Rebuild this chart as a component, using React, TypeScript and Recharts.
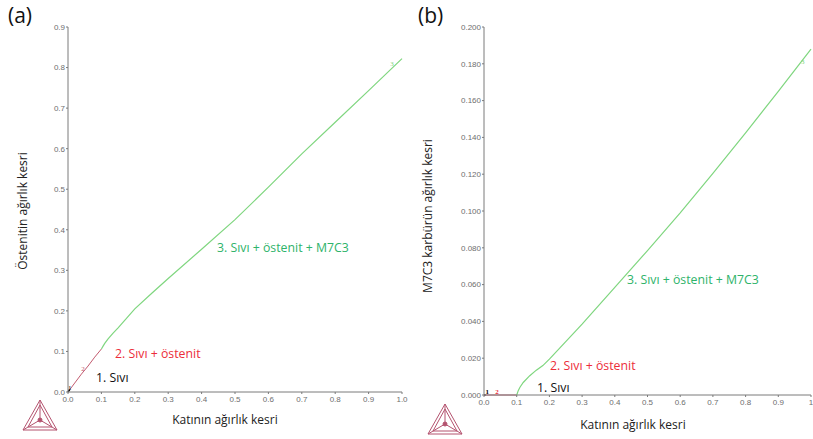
import { LineChart, Line, XAxis, YAxis, ReferenceDot } from 'recharts';

type Pt = { x: number; y: number };

// (a) Östenit fraction vs solid fraction
const aLiquid: Pt[] = [
  { x: 0, y: 0 },
  { x: 0.005, y: 0.006 },
];
const aAustenite: Pt[] = [
  { x: 0, y: 0 },
  { x: 0.02, y: 0.022 },
  { x: 0.04, y: 0.044 },
  { x: 0.06, y: 0.064 },
  { x: 0.08, y: 0.086 },
  { x: 0.1, y: 0.106 },
];
const aEutectic: Pt[] = [
  { x: 0.1, y: 0.106 },
  { x: 0.105, y: 0.113 },
  { x: 0.11, y: 0.12 },
  { x: 0.12, y: 0.131 },
  { x: 0.135, y: 0.145 },
  { x: 0.15, y: 0.158 },
  { x: 0.2, y: 0.205 },
  { x: 0.25, y: 0.243 },
  { x: 0.3, y: 0.28 },
  { x: 0.4, y: 0.352 },
  { x: 0.5, y: 0.425 },
  { x: 0.6, y: 0.505 },
  { x: 0.7, y: 0.587 },
  { x: 0.8, y: 0.665 },
  { x: 0.9, y: 0.743 },
  { x: 1.0, y: 0.822 },
];
const aYTicks = [0, 0.1, 0.2, 0.3, 0.4, 0.5, 0.6, 0.7, 0.8, 0.9];

// (b) M7C3 fraction vs solid fraction
const bLiquid: Pt[] = [
  { x: 0, y: 0 },
  { x: 0.005, y: 0 },
];
const bAustenite: Pt[] = [
  { x: 0, y: 0 },
  { x: 0.1, y: 0 },
];
const bEutectic: Pt[] = [
  { x: 0.1, y: 0 },
  { x: 0.105, y: 0.0025 },
  { x: 0.11, y: 0.0042 },
  { x: 0.12, y: 0.0068 },
  { x: 0.14, y: 0.0105 },
  { x: 0.16, y: 0.0135 },
  { x: 0.18, y: 0.016 },
  { x: 0.2, y: 0.0195 },
  { x: 0.3, y: 0.0385 },
  { x: 0.4, y: 0.0585 },
  { x: 0.5, y: 0.0785 },
  { x: 0.6, y: 0.099 },
  { x: 0.7, y: 0.1205 },
  { x: 0.8, y: 0.1425 },
  { x: 0.9, y: 0.165 },
  { x: 1.0, y: 0.188 },
];
const bYTicks = [0, 0.02, 0.04, 0.06, 0.08, 0.1, 0.12, 0.14, 0.16, 0.18, 0.2];

const xTicks = [0, 0.1, 0.2, 0.3, 0.4, 0.5, 0.6, 0.7, 0.8, 0.9, 1.0];

const GREEN_LINE = '#7fd67f';
const RED_LINE = '#c25a6e';
const GREEN_TEXT = '#2eb36a';
const RED_TEXT = '#ec2d3a';
const FRAME = '#7a7a7a';
const TICK = { fill: '#6e6e6e', fontSize: 8, fontFamily: 'Liberation Sans, Arial, sans-serif' };
const LABEL_FONT = '"Open Sans", "Noto Sans", sans-serif';

function Logo({ x, y }: { x: number; y: number }) {
  const c = '#b4536f';
  return (
    <g transform={`translate(${x},${y})`} fill="none" stroke={c} strokeWidth={1}>
      <polygon points="17,0 0,30 34,30" />
      <polygon points="17,5 5,27 29,27" />
      <line x1={17} y1={0} x2={17} y2={20} />
      <line x1={0} y1={30} x2={17} y2={20} />
      <line x1={34} y1={30} x2={17} y2={20} />
      <circle cx={17} cy={20} r={2} fill={c} />
    </g>
  );
}

export default function App() {
  return (
    <div style={{ position: 'absolute', left: 0, top: 0, width: 813, height: 439, overflow: 'hidden', background: '#fff' }}>
      <div style={{ position: 'absolute', left: 0, top: 0 }}>
        <LineChart width={410} height={439} margin={{ top: 27, right: 8, bottom: 27, left: 0 }}>
          <XAxis
            type="number"
            dataKey="x"
            domain={[0, 1]}
            ticks={xTicks}
            tickFormatter={(v: number) => v.toFixed(1)}
            height={20}
            stroke={FRAME}
            tick={TICK}
            tickSize={2}
            tickMargin={2}
            interval={0}
          />
          <XAxis xAxisId="top" orientation="top" type="number" domain={[0, 1]} tick={false} height={0} stroke={FRAME} />
          <YAxis
            type="number"
            dataKey="y"
            domain={[0, 0.9]}
            ticks={aYTicks}
            tickFormatter={(v: number) => v.toFixed(1)}
            width={68}
            stroke={FRAME}
            tick={TICK}
            tickSize={2}
            tickMargin={1}
            interval={0}
          />
          <YAxis yAxisId="right" orientation="right" tick={false} width={0} stroke={FRAME} />
          <Line data={aAustenite} dataKey="y" stroke={RED_LINE} strokeWidth={1} dot={false} isAnimationActive={false} />
          <Line data={aEutectic} dataKey="y" stroke={GREEN_LINE} strokeWidth={1.2} dot={false} isAnimationActive={false} />
          <Line data={aLiquid} dataKey="y" stroke="#000" strokeWidth={1.5} dot={false} isAnimationActive={false} />
          <ReferenceDot x={0.005} y={0.012} r={0} label={{ value: '1', fill: '#000', fontSize: 7 }} />
          <ReferenceDot x={0.045} y={0.058} r={0} label={{ value: '2', fill: RED_LINE, fontSize: 7 }} />
          <ReferenceDot x={0.97} y={0.81} r={0} label={{ value: '3', fill: GREEN_LINE, fontSize: 7 }} />
        </LineChart>
      </div>
      <div style={{ position: 'absolute', left: 410, top: 0 }}>
        <LineChart width={403} height={439} margin={{ top: 27, right: 2, bottom: 24, left: 0 }}>
          <XAxis
            type="number"
            dataKey="x"
            domain={[0, 1]}
            ticks={xTicks}
            tickFormatter={(v: number) => (v === 1 ? '1' : v.toFixed(1))}
            height={20}
            stroke={FRAME}
            tick={TICK}
            tickSize={2}
            tickMargin={2}
            interval={0}
          />
          <XAxis xAxisId="top" orientation="top" type="number" domain={[0, 1]} tick={false} height={0} stroke={FRAME} />
          <YAxis
            type="number"
            dataKey="y"
            domain={[0, 0.2]}
            ticks={bYTicks}
            tickFormatter={(v: number) => v.toFixed(3)}
            width={74}
            stroke={FRAME}
            tick={TICK}
            tickSize={2}
            tickMargin={1}
            interval={0}
          />
          <YAxis yAxisId="right" orientation="right" tick={false} width={0} stroke={FRAME} />
          <Line data={bAustenite} dataKey="y" stroke={RED_LINE} strokeWidth={1} dot={false} isAnimationActive={false} />
          <Line data={bLiquid} dataKey="y" stroke="#000" strokeWidth={1} dot={false} isAnimationActive={false} />
          <Line data={bEutectic} dataKey="y" stroke={GREEN_LINE} strokeWidth={1.2} dot={false} isAnimationActive={false} />
          <ReferenceDot x={0.01} y={0.002} r={0} label={{ value: '1', fill: '#000', fontSize: 7, fontWeight: 700 }} />
          <ReferenceDot x={0.04} y={0.002} r={0} label={{ value: '2', fill: RED_TEXT, fontSize: 7, fontWeight: 700 }} />
          <ReferenceDot x={0.975} y={0.181} r={0} label={{ value: '3', fill: GREEN_LINE, fontSize: 7 }} />
        </LineChart>
      </div>
      <svg width={813} height={439} style={{ position: 'absolute', left: 0, top: 0, pointerEvents: 'none' }}>
        <g fontFamily={LABEL_FONT}>
          <text x={8} y={23} fontSize={21} fill="#111">(a)</text>
          <text x={418} y={23} fontSize={21} fill="#111">(b)</text>
          <text transform="translate(27,211) rotate(-90)" textAnchor="middle" fontSize={12} fill="#222">Östenitin ağırlık kesri</text>
          <text transform="translate(432,216) rotate(-90)" textAnchor="middle" fontSize={12} fill="#222">M7C3 karbürün ağırlık kesri</text>
          <text x={225} y={424} textAnchor="middle" fontSize={12} fill="#222">Katının ağırlık kesri</text>
          <text x={633} y={429} textAnchor="middle" fontSize={12} fill="#222">Katının ağırlık kesri</text>

          <text x={217} y={252} fontSize={12.3} fill={GREEN_TEXT}>3. Sıvı + östenit + M7C3</text>
          <text x={115} y={358} fontSize={12.3} fill={RED_TEXT}>2. Sıvı + östenit</text>
          <text x={96} y={382} fontSize={12.3} fill="#111">1. Sıvı</text>

          <text x={627} y={284} fontSize={12.3} fill={GREEN_TEXT}>3. Sıvı + östenit + M7C3</text>
          <text x={550} y={370} fontSize={12.3} fill={RED_TEXT}>2. Sıvı + östenit</text>
          <text x={537} y={392} fontSize={12.3} fill="#111">1. Sıvı</text>
        </g>
        <Logo x={23} y={400} />
        <Logo x={428} y={404} />
      </svg>
    </div>
  );
}
